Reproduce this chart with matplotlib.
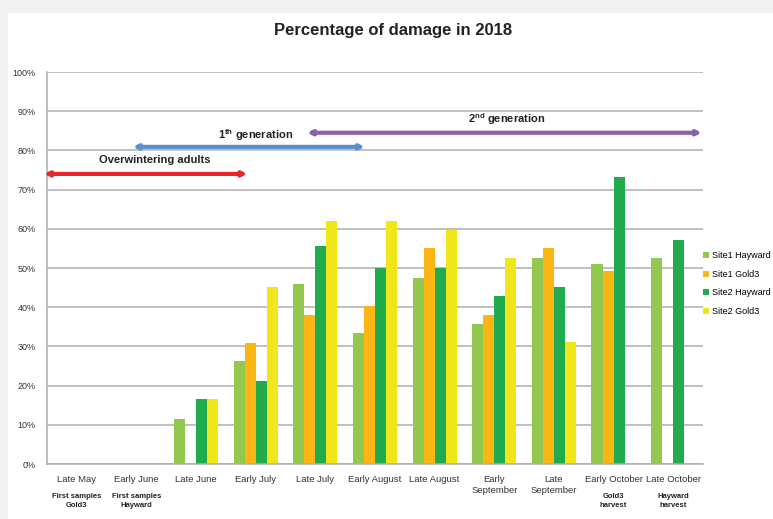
import matplotlib
matplotlib.use("Agg")
import matplotlib.pyplot as plt
import numpy as np
from matplotlib.patches import Rectangle

plt.rcParams["font.family"] = ["Liberation Sans", "DejaVu Sans"]
plt.rcParams["mathtext.fontset"] = "custom"
plt.rcParams["mathtext.bf"] = "Liberation Sans:bold"
plt.rcParams["mathtext.rm"] = "Liberation Sans"

categories = ["Late May", "Early June", "Late June", "Early July", "Late July",
              "Early August", "Late August", "Early\nSeptember", "Late\nSeptember",
              "Early October", "Late October"]
series_names = ["Site1 Hayward", "Site1 Gold3", "Site2 Hayward", "Site2 Gold3"]
site1_hayward = [0, 0, 11.6, 26.3, 46.0, 33.5, 47.5, 35.7, 52.5, 50.9, 52.5]
site1_gold3 = [0, 0, 0, 30.9, 37.9, 40.4, 55.0, 38.0, 55.0, 49.2, 0]
site2_hayward = [0, 0, 16.6, 21.3, 55.7, 50.0, 50.0, 42.9, 45.2, 73.1, 57.1]
site2_gold3 = [0, 0, 16.6, 45.2, 62.0, 62.0, 59.8, 52.5, 31.0, 0, 0]
colors = ["#92c84e", "#fbb515", "#20ab4c", "#f0e619"]

# notes under the category labels
notes = {0: "First samples\nGold3", 1: "First samples\nHayward",
         9: "Gold3\nharvest", 10: "Hayward\nharvest"}

# generation arrows: (label, x start, x end, y, colour, label x, label y)
periods = [
    ("Overwintering adults", -0.55, 2.86, 74.0, "#e8262a", 1.3, 77.6),
    (r"1$^{\mathbf{th}}$ generation", 0.94, 4.83, 80.9, "#5b8fcb", 3.0, 83.9),
    (r"2$^{\mathbf{nd}}$ generation", 3.86, 10.48, 84.5, "#8a62a8", 7.2, 87.9),
]

fig = plt.figure(figsize=(7.73, 5.19), dpi=100, facecolor="#f2f2f2")
fig.patches.append(Rectangle((8 / 773, 0), 1, 1 - 13 / 519, transform=fig.transFigure,
                             facecolor="white", edgecolor="none", zorder=-1))
ax = fig.add_axes([47 / 773, 1 - 464 / 519, 656 / 773, 392 / 519])
ax.set_facecolor("white")

x = np.arange(len(categories))
w = 0.185
data = [site1_hayward, site1_gold3, site2_hayward, site2_gold3]
for i, (vals, name, c) in enumerate(zip(data, series_names, colors)):
    ax.bar(x + (i - 1.5) * w, vals, width=w, color=c, label=name, zorder=2)

ax.set_xlim(-0.5, len(categories) - 0.5)
ax.set_ylim(0, 100)
ax.set_yticks(np.arange(0, 101, 10))
ax.set_yticklabels([f"{v}%" for v in range(0, 101, 10)], fontsize=6.5, color="#333333")
ax.set_xticks(x)
ax.set_xticklabels(categories, fontsize=6.8, color="#333333")
ax.tick_params(length=0, pad=8)
ax.tick_params(axis="y", pad=8)
ax.grid(axis="y", color="#adadad", lw=1.1, zorder=0)
for s in ["top", "right"]:
    ax.spines[s].set_visible(False)
for s in ["left", "bottom"]:
    ax.spines[s].set_color("#adadad")
    ax.spines[s].set_linewidth(1.1)

for i, txt in notes.items():
    ax.text(i, -7.5, txt, ha="center", va="top", fontsize=5.5, fontweight="bold",
            color="#222222", clip_on=False, linespacing=1.4)

for label, x0, x1, y, c, tx, ty in periods:
    ax.annotate("", xy=(x1, y), xytext=(x0, y),
                arrowprops=dict(arrowstyle="<|-|>", color=c, lw=3, mutation_scale=6,
                                shrinkA=0, shrinkB=0), annotation_clip=False)
    ax.text(tx, ty, label, ha="center", va="center", fontsize=8, fontweight="bold",
            color="#222222")

fig.text(393 / 773, 1 - 31 / 519, "Percentage of damage in 2018", ha="center", va="center",
         fontsize=12, fontweight="bold", color="#222222")

ax.legend(loc="center left", bbox_to_anchor=(0.998, 0.46), frameon=False, fontsize=6.5,
          handlelength=0.6, handleheight=0.6, handletextpad=0.35, labelspacing=1.05,
          borderaxespad=0.0, borderpad=0.2)

fig.savefig("out.png", dpi=100, facecolor=fig.get_facecolor())
